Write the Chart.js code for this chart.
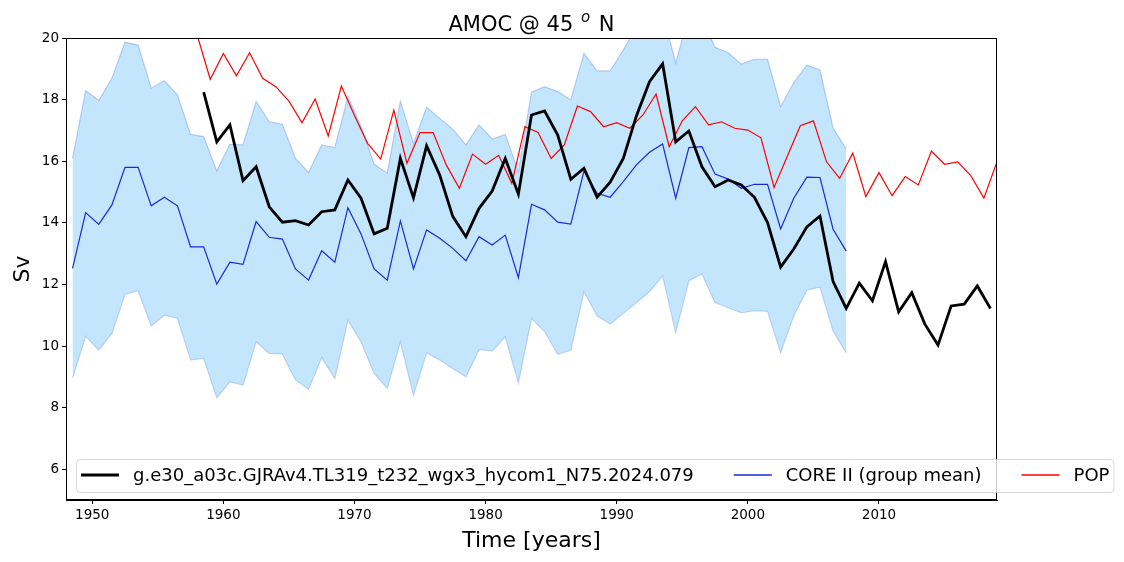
<!DOCTYPE html>
<html lang="en">
<head>
  <meta charset="UTF-8">
  <title>AMOC @ 45 N</title>
  <script src="https://cdn.jsdelivr.net/npm/chart.js@4"></script>
  <style>
    body { margin: 0; background: #fff; }
    #amoc { display: block; }
  </style>
</head>
<body>
  <canvas id="amoc" width="1124" height="562"></canvas>
  <script>
    // CORE II group: yearly mean and +/- spread, mid-year stamps
    const coreYears = [1948.5, 1949.5, 1950.5, 1951.5, 1952.5, 1953.5, 1954.5, 1955.5, 1956.5, 1957.5,
      1958.5, 1959.5, 1960.5, 1961.5, 1962.5, 1963.5, 1964.5, 1965.5, 1966.5, 1967.5,
      1968.5, 1969.5, 1970.5, 1971.5, 1972.5, 1973.5, 1974.5, 1975.5, 1976.5, 1977.5,
      1978.5, 1979.5, 1980.5, 1981.5, 1982.5, 1983.5, 1984.5, 1985.5, 1986.5, 1987.5,
      1988.5, 1989.5, 1990.5, 1991.5, 1992.5, 1993.5, 1994.5, 1995.5, 1996.5, 1997.5,
      1998.5, 1999.5, 2000.5, 2001.5, 2002.5, 2003.5, 2004.5, 2005.5, 2006.5, 2007.5];
    const coreMean = [12.52, 14.33, 13.95, 14.58, 15.80, 15.80, 14.55, 14.83, 14.55, 13.22, 13.22, 12.01,
      12.72, 12.65, 14.04, 13.53, 13.47, 12.50, 12.14, 13.09, 12.72, 14.49, 13.64, 12.50,
      12.14, 14.06, 12.50, 13.77, 13.50, 13.17, 12.77, 13.55, 13.28, 13.60, 12.22, 14.60,
      14.42, 14.02, 13.96, 15.68, 14.96, 14.83, 15.34, 15.88, 16.29, 16.56, 14.80, 16.44,
      16.47, 15.58, 15.42, 15.12, 15.25, 15.25, 13.80, 14.80, 15.48, 15.47, 13.79, 13.08];
    const coreUpper = [16.09, 18.29, 17.97, 18.69, 19.86, 19.77, 18.37, 18.61, 18.15, 16.87, 16.80, 15.68,
      16.55, 16.53, 17.94, 17.28, 17.20, 16.09, 15.63, 16.53, 16.44, 18.10, 17.13, 15.90,
      15.61, 17.95, 16.58, 17.75, 17.39, 17.04, 16.53, 17.18, 16.72, 16.87, 15.66, 18.24,
      18.42, 18.26, 17.99, 19.50, 18.93, 18.93, 19.61, 20.35, 20.81, 20.84, 19.18, 20.76,
      20.60, 19.70, 19.52, 19.15, 19.31, 19.31, 17.77, 18.55, 19.12, 18.96, 17.07, 16.39];
    const coreLower = [8.97, 10.32, 9.87, 10.41, 11.68, 11.80, 10.66, 11.00, 10.90, 9.55, 9.60, 8.32,
      8.84, 8.73, 10.14, 9.76, 9.74, 8.90, 8.60, 9.63, 8.95, 10.84, 10.14, 9.11,
      8.63, 10.14, 8.41, 9.78, 9.55, 9.27, 9.00, 9.89, 9.84, 10.30, 8.81, 10.90,
      10.47, 9.73, 9.87, 11.77, 10.98, 10.71, 11.06, 11.41, 11.77, 12.28, 10.44, 12.12,
      12.34, 11.41, 11.24, 11.08, 11.15, 11.13, 9.79, 10.98, 11.82, 11.91, 10.49, 9.78];

    // HYCOM run
    const hycomYears = [1958.5, 1959.5, 1960.5, 1961.5, 1962.5, 1963.5, 1964.5, 1965.5, 1966.5, 1967.5,
      1968.5, 1969.5, 1970.5, 1971.5, 1972.5, 1973.5, 1974.5, 1975.5, 1976.5, 1977.5,
      1978.5, 1979.5, 1980.5, 1981.5, 1982.5, 1983.5, 1984.5, 1985.5, 1986.5, 1987.5,
      1988.5, 1989.5, 1990.5, 1991.5, 1992.5, 1993.5, 1994.5, 1995.5, 1996.5, 1997.5,
      1998.5, 1999.5, 2000.5, 2001.5, 2002.5, 2003.5, 2004.5, 2005.5, 2006.5, 2007.5,
      2008.5, 2009.5, 2010.5, 2011.5, 2012.5, 2013.5, 2014.5, 2015.5, 2016.5, 2017.5, 2018.5];
    const hycomAmoc = [18.24, 16.63, 17.18, 15.37, 15.82, 14.52, 14.02, 14.07, 13.93, 14.36, 14.42, 15.39,
      14.80, 13.64, 13.82, 16.09, 14.81, 16.50, 15.55, 14.20, 13.55, 14.47, 15.03, 16.09,
      14.93, 17.50, 17.63, 16.85, 15.41, 15.77, 14.83, 15.32, 16.09, 17.47, 18.58, 19.16,
      16.63, 16.98, 15.82, 15.17, 15.39, 15.23, 14.83, 14.01, 12.56, 13.15, 13.87, 14.22,
      12.09, 11.22, 12.04, 11.47, 12.74, 11.11, 11.73, 10.71, 10.03, 11.30, 11.36, 11.95, 11.22];

    // POP run
    const popYears = [1958, 1959, 1960, 1961, 1962, 1963, 1964, 1965, 1966, 1967, 1968, 1969,
      1970, 1971, 1972, 1973, 1974, 1975, 1976, 1977, 1978, 1979, 1980, 1981,
      1982, 1983, 1984, 1985, 1986, 1987, 1988, 1989, 1990, 1991, 1992, 1993,
      1994, 1995, 1996, 1997, 1998, 1999, 2000, 2001, 2002, 2003, 2004, 2005,
      2006, 2007, 2008, 2009, 2010, 2011, 2012, 2013, 2014, 2015, 2016, 2017, 2018, 2019];
    const popAmoc = [20.1, 18.66, 19.50, 18.77, 19.52, 18.69, 18.42, 17.95, 17.25, 18.02, 16.82, 18.44,
      17.48, 16.58, 16.07, 17.66, 15.93, 16.93, 16.93, 15.88, 15.12, 16.23, 15.90, 16.19,
      15.28, 17.12, 16.93, 16.09, 16.53, 17.79, 17.61, 17.12, 17.25, 17.07, 17.50, 18.18,
      16.47, 17.31, 17.77, 17.18, 17.28, 17.07, 17.01, 16.76, 15.15, 16.15, 17.15, 17.31,
      15.98, 15.44, 16.26, 14.85, 15.63, 14.88, 15.50, 15.23, 16.33, 15.90, 15.98, 15.53, 14.80, 15.98];

    const xTicks = [1950, 1960, 1970, 1980, 1990, 2000, 2010];
    const yTicks = [6, 8, 10, 12, 14, 16, 18, 20];

    const hycomLabel = "g.e30_a03c.GJRAv4.TL319_t232_wgx3_hycom1_N75.2024.079";
    const coreLabel = "CORE II (group mean)";
    const popLabel = "POP";

    const FONT = "'DejaVu Sans', sans-serif";
    const BLUE = "#1a2ad8";

    function pts(xs, ys) {
      return xs.map((x, i) => ({ x: x, y: ys[i] }));
    }

    // title, axis labels, frame and the wide legend, drawn like matplotlib does
    const decor = {
      id: "decor",
      afterDraw(chart) {
        const ctx = chart.ctx;
        const a = chart.chartArea;
        ctx.save();

        // full axes frame
        ctx.strokeStyle = "#000";
        ctx.lineWidth = 1;
        ctx.strokeRect(Math.round(a.left) + 0.5, Math.round(a.top) + 0.5,
          Math.round(a.right - a.left) - 1, Math.round(a.bottom - a.top) - 1);

        // title with superscript o
        ctx.fillStyle = "#000";
        ctx.textBaseline = "alphabetic";
        ctx.textAlign = "left";
        const p1 = "AMOC @ 45 ", p3 = " N";
        const big = "21px " + FONT, sup = "italic 15px " + FONT;
        ctx.font = big;
        const w1 = ctx.measureText(p1).width, w3 = ctx.measureText(p3).width;
        ctx.font = sup;
        const w2 = ctx.measureText("o").width + 3;
        let tx = (a.left + a.right) / 2 - (w1 + w2 + w3) / 2;
        ctx.font = big;
        ctx.fillText(p1, tx, 31);
        ctx.font = sup;
        ctx.fillText("o", tx + w1 + 1, 22);
        ctx.font = big;
        ctx.fillText(p3, tx + w1 + w2, 31);

        // axis labels
        ctx.font = "22px " + FONT;
        ctx.textAlign = "center";
        ctx.fillText("Time [years]", (a.left + a.right) / 2, 547);
        ctx.save();
        ctx.translate(29, (a.top + a.bottom) / 2);
        ctx.rotate(-Math.PI / 2);
        ctx.fillText("Sv", 0, 0);
        ctx.restore();

        // legend, one row, runs past the axes on the right
        const items = [
          { label: hycomLabel, color: "#000000", lw: 3 },
          { label: coreLabel, color: BLUE, lw: 1.5 },
          { label: popLabel, color: "#ff0000", lw: 1.5 }
        ];
        ctx.font = "18px " + FONT;
        const boxL = 76, boxT = 459, boxH = 33, cy = 475;
        let x = boxL + 5;
        const pos = [];
        let lastEnd = x;
        items.forEach(it => {
          pos.push(x);
          lastEnd = x + 38 + 14 + ctx.measureText(it.label).width;
          x = lastEnd + 40;
        });
        const boxR = lastEnd + 4;
        ctx.beginPath();
        ctx.roundRect(boxL + 0.5, boxT + 0.5, boxR - boxL, boxH, 4);
        ctx.fillStyle = "rgba(255,255,255,0.8)";
        ctx.fill();
        ctx.strokeStyle = "rgba(204,204,204,0.8)";
        ctx.lineWidth = 1;
        ctx.stroke();
        ctx.textAlign = "left";
        ctx.textBaseline = "middle";
        items.forEach((it, i) => {
          ctx.beginPath();
          ctx.strokeStyle = it.color;
          ctx.lineWidth = it.lw;
          ctx.moveTo(pos[i], cy);
          ctx.lineTo(pos[i] + 38, cy);
          ctx.stroke();
          ctx.fillStyle = "#000";
          ctx.fillText(it.label, pos[i] + 52, cy + 1);
        });

        ctx.restore();
      }
    };

    new Chart(document.getElementById("amoc"), {
      type: "line",
      data: {
        datasets: [
          {
            label: "core upper",
            data: pts(coreYears, coreUpper),
            borderColor: "rgba(80,120,230,0.35)",
            borderWidth: 1.2,
            backgroundColor: "rgba(135,206,250,0.5)",
            fill: "+1",
            pointRadius: 0,
            order: 10
          },
          {
            label: "core lower",
            data: pts(coreYears, coreLower),
            borderColor: "rgba(80,120,230,0.35)",
            borderWidth: 1.2,
            fill: false,
            pointRadius: 0,
            order: 10
          },
          {
            label: coreLabel,
            data: pts(coreYears, coreMean),
            borderColor: BLUE,
            borderWidth: 1.2,
            fill: false,
            pointRadius: 0,
            order: 3
          },
          {
            label: popLabel,
            data: pts(popYears, popAmoc),
            borderColor: "#ff0000",
            borderWidth: 1.2,
            fill: false,
            pointRadius: 0,
            order: 2
          },
          {
            label: hycomLabel,
            data: pts(hycomYears, hycomAmoc),
            borderColor: "#000",
            borderWidth: 2.8,
            fill: false,
            pointRadius: 0,
            order: 1
          }
        ]
      },
      options: {
        responsive: false,
        animation: false,
        devicePixelRatio: 1,
        layout: { padding: { left: 0, top: 38, right: 127, bottom: 0 } },
        plugins: {
          legend: { display: false },
          tooltip: { enabled: false }
        },
        scales: {
          x: {
            type: "linear",
            min: 1948,
            max: 2019,
            afterBuildTicks: s => { s.ticks = xTicks.map(v => ({ value: v })); },
            afterFit: s => { s.height = 62; },
            grid: { drawOnChartArea: false, drawTicks: true, tickLength: 4, color: "#000" },
            border: { display: true, color: "#000", width: 1 },
            ticks: {
              color: "#000",
              font: { family: FONT, size: 13.5 },
              padding: 3,
              maxRotation: 0,
              callback: v => String(v)
            }
          },
          y: {
            min: 5,
            max: 20,
            afterBuildTicks: s => { s.ticks = yTicks.map(v => ({ value: v })); },
            afterFit: s => { s.width = 66; },
            grid: { drawOnChartArea: false, drawTicks: true, tickLength: 4, color: "#000" },
            border: { display: true, color: "#000", width: 1 },
            ticks: {
              color: "#000",
              font: { family: FONT, size: 13.5 },
              padding: 3,
              callback: v => String(v)
            }
          }
        }
      },
      plugins: [decor]
    });
  </script>
</body>
</html>
